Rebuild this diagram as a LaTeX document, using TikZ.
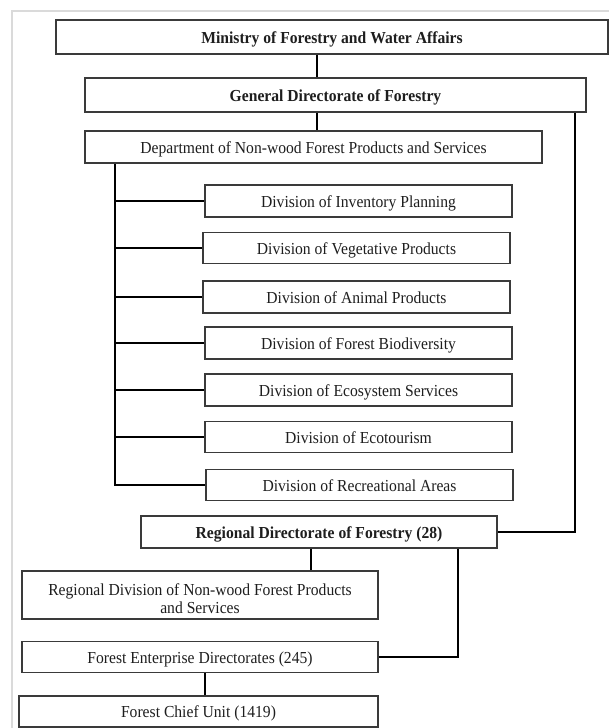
\documentclass[tikz,border=0pt]{standalone}
\usepackage{fontspec}
\setmainfont{Liberation Serif}[FakeStretch=0.93]
\definecolor{boxline}{HTML}{3A3A3A}
\definecolor{txt}{HTML}{1E1E1E}
\definecolor{frame}{HTML}{DADADA}
\begin{document}
\begin{tikzpicture}[x=1pt,y=-1pt,
  box/.style={draw=boxline,line width=1.1pt,rectangle,inner sep=0pt,fill=white,
    text=txt,font=\fontsize{16.8}{18}\selectfont,text height=12.5pt,text depth=0pt,align=center},
  box2/.style={draw=boxline,line width=1.1pt,rectangle,inner sep=0pt,fill=white,
    text=txt,font=\fontsize{16.8}{18}\selectfont,align=center},
  conn/.style={draw=black,line width=1.5pt}]
\useasboundingbox (0,0) rectangle (609,728);
\fill[white] (0,0) rectangle (609,728);
\draw[frame,line width=1.5pt] (12,728) -- (12,11) -- (609,11);
% helper coordinates
\coordinate (xa) at (317,0);
\coordinate (xr) at (575,0);
\coordinate (xs) at (115,0);
\coordinate (xb) at (311,0);
\coordinate (xc) at (458,0);
\coordinate (xd) at (205,0);
% boxes
\node[box,minimum width=552,minimum height=34] (min) at (332,37) {\bfseries Ministry of Forestry and Water Affairs};
\node[box,minimum width=501,minimum height=34] (gen) at (335.5,95) {\bfseries General Directorate of Forestry};
\node[box,minimum width=457,minimum height=32] (dep) at (313.5,147) {Department of Non-wood Forest Products and Services};
\node[box,minimum width=307,minimum height=32] (inv) at (358.5,201) {Division of Inventory Planning};
\node[box,minimum width=307,minimum height=31] (veg) at (356.5,248) {Division of Vegetative Products};
\node[box,minimum width=307,minimum height=32] (ani) at (356.5,297) {Division of Animal Products};
\node[box,minimum width=307,minimum height=32] (bio) at (358.5,343) {Division of Forest Biodiversity};
\node[box,minimum width=307,minimum height=32] (eco) at (358.5,390) {Division of Ecosystem Services};
\node[box,minimum width=307,minimum height=31] (tou) at (358.5,437) {Division of Ecotourism};
\node[box,minimum width=307,minimum height=31] (rec) at (359.5,485) {Division of Recreational Areas};
\node[box,minimum width=356,minimum height=32] (reg) at (319,532) {\bfseries Regional Directorate of Forestry (28)};
\node[box2,minimum width=356,minimum height=48] (rdiv) at (200,595) {\raisebox{-10pt}[0pt][0pt]{\begin{tabular}{@{}c@{}}Regional Division of Non-wood Forest Products\\and Services\end{tabular}}};
\node[box,minimum width=356,minimum height=31] (fed) at (200,657) {Forest Enterprise Directorates (245)};
\node[box,minimum width=359,minimum height=31] (chief) at (198.5,711.5) {Forest Chief Unit (1419)};
% connectors
\draw[conn] (min.south -| xa) -- (gen.north -| xa);
\draw[conn] (gen.south -| xa) -- (dep.north -| xa);
\draw[conn] (gen.south -| xr) |- (reg.east);
\draw[conn] (dep.south -| xs) |- (rec.west);
\foreach \n in {inv,veg,ani,bio,eco,tou}{\draw[conn] (\n.west -| xs) -- (\n.west);}
\draw[conn] (reg.south -| xb) -- (rdiv.north -| xb);
\draw[conn] (reg.south -| xc) |- (fed.east);
\draw[conn] (fed.south -| xd) -- (chief.north -| xd);
\end{tikzpicture}
\end{document}
